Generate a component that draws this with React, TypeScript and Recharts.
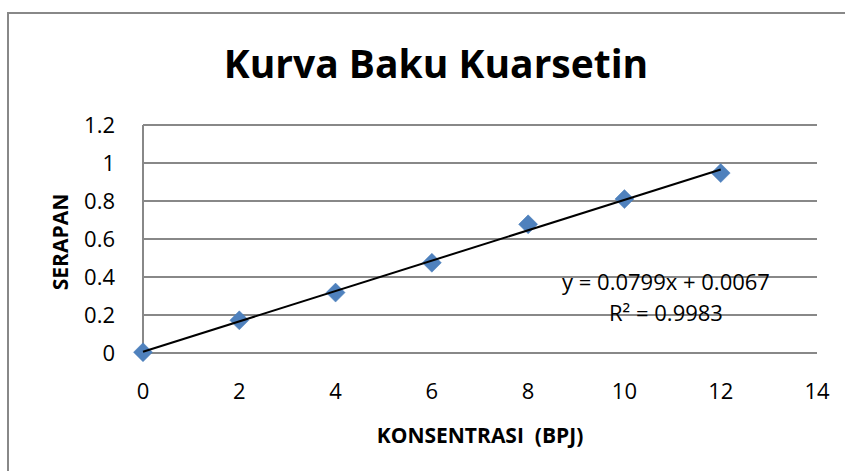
import React from "react";
import { ScatterChart, Scatter, XAxis, YAxis, CartesianGrid } from "recharts";

const concentrations = [0, 2, 4, 6, 8, 10, 12];
const absorbance = [0.004, 0.172, 0.318, 0.475, 0.677, 0.81, 0.947];
const trendX = [0, 12];
const trendY = [0.0067, 0.9655];
const xTicks = [0, 2, 4, 6, 8, 10, 12, 14];
const yTicks = [0, 0.2, 0.4, 0.6, 0.8, 1, 1.2];

const title = "Kurva Baku Kuarsetin";
const xTitle = "KONSENTRASI  (BPJ)";
const yTitle = "SERAPAN";
const eqLine1 = "y = 0.0799x + 0.0067";
const eqLine2 = "R² = 0.9983";

const points = concentrations.map((x, i) => ({ x, y: absorbance[i] }));
const trend = trendX.map((x, i) => ({ x, y: trendY[i] }));

const FONT = "'Open Sans', 'Liberation Sans', sans-serif";

const Diamond = (props: any) => {
  const { cx, cy } = props;
  if (cx == null || cy == null) return null;
  const r = 9.5;
  return (
    <polygon
      points={`${cx},${cy - r} ${cx + r},${cy} ${cx},${cy + r} ${cx - r},${cy}`}
      fill="#4F81BD"
      stroke="#4A7EBB"
      strokeWidth={0.5}
    />
  );
};

export default function App() {
  return (
    <div
      style={{
        position: "absolute",
        left: 0,
        top: 0,
        width: 845,
        height: 471,
        overflow: "hidden",
        background: "#fff",
        fontFamily: FONT,
      }}
    >
      <div style={{ position: "absolute", left: 0, top: 0 }}>
        <ScatterChart
          width={845}
          height={471}
          margin={{ top: 125, right: 28, left: 83, bottom: 88 }}
        >
          <CartesianGrid horizontal vertical={false} stroke="#888" strokeWidth={2} />
          <XAxis
            type="number"
            dataKey="x"
            domain={[0, 14]}
            ticks={xTicks}
            axisLine={false}
            tickLine={false}
            tickSize={0}
            tickMargin={30}
            height={30}
            interval={0}
            tick={{ fill: "#000", fontSize: 22, fontFamily: FONT }}
          />
          <YAxis
            type="number"
            dataKey="y"
            domain={[0, 1.2]}
            ticks={yTicks}
            axisLine={{ stroke: "#888", strokeWidth: 2 }}
            tickLine={false}
            tickSize={0}
            tickMargin={28}
            width={60}
            interval={0}
            tick={{ fill: "#000", fontSize: 22, fontFamily: FONT }}
          />
          <Scatter data={points} shape={<Diamond />} isAnimationActive={false} />
          <Scatter
            data={trend}
            line={{ stroke: "#000", strokeWidth: 2 }}
            shape={() => null}
            isAnimationActive={false}
          />
        </ScatterChart>
      </div>
      <svg
        width={845}
        height={471}
        style={{ position: "absolute", left: 0, top: 0, pointerEvents: "none" }}
      >
        <path d="M8,471 L8,13 L845,13" fill="none" stroke="#888" strokeWidth={2} />
        <text
          x={436}
          y={78}
          textAnchor="middle"
          fontFamily={FONT}
          fontWeight="bold"
          fontSize={39}
          fill="#000"
        >
          {title}
        </text>
        <text
          x={480}
          y={443}
          textAnchor="middle"
          fontFamily={FONT}
          fontWeight="bold"
          fontSize={21}
          fill="#000"
          style={{ whiteSpace: "pre" }}
        >
          {xTitle}
        </text>
        <text
          x={0}
          y={0}
          transform="translate(68,242) rotate(-90)"
          textAnchor="middle"
          fontFamily={FONT}
          fontWeight="bold"
          fontSize={21}
          fill="#000"
        >
          {yTitle}
        </text>
        <text
          x={666}
          y={290}
          textAnchor="middle"
          fontFamily={FONT}
          fontSize={22}
          fill="#000"
        >
          {eqLine1}
        </text>
        <text
          x={666}
          y={321}
          textAnchor="middle"
          fontFamily={FONT}
          fontSize={22}
          fill="#000"
        >
          {eqLine2}
        </text>
      </svg>
    </div>
  );
}
